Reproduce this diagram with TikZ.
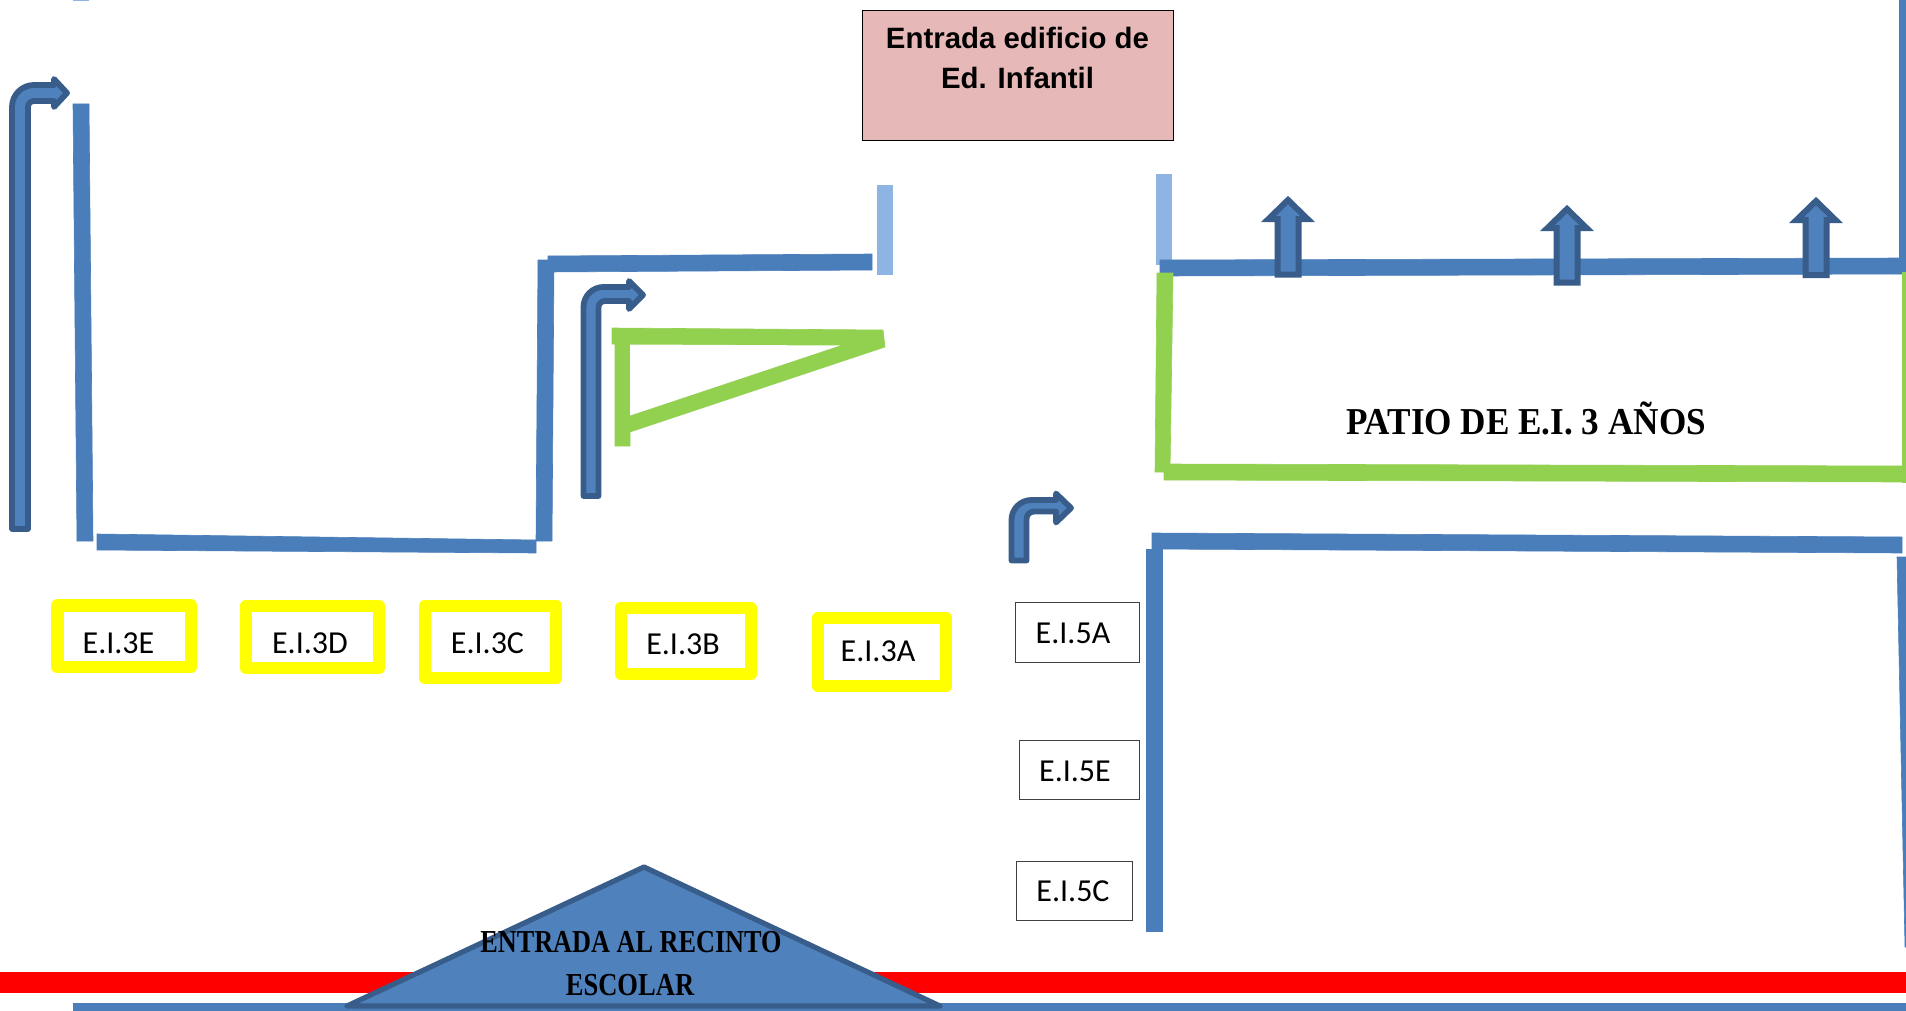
\documentclass[tikz,border=0pt]{standalone}
\usepackage{fontspec}
\setmainfont{Liberation Sans}
\newfontfamily\calib{Carlito}
\newfontfamily\deco{Liberation Serif}
\definecolor{wallblue}{HTML}{4A7EBB}
\definecolor{lightwall}{HTML}{8EB4E3}
\definecolor{greenwall}{HTML}{92D050}
\definecolor{arrowfill}{HTML}{4F81BD}
\definecolor{arrowline}{HTML}{385D8A}
\definecolor{pinkbox}{HTML}{E6B8B7}
\definecolor{pureyellow}{HTML}{FFFF00}
\definecolor{purered}{HTML}{FF0000}
\tikzset{
  wall/.style={fill=wallblue,draw=wallblue,line width=0.3pt},
  lightw/.style={fill=lightwall,draw=none},
  greenw/.style={fill=greenwall,draw=greenwall,line width=0.3pt},
  bigarrow/.style={fill=arrowfill,draw=arrowline,line width=2.9pt,line join=round},
  uparrow/.style={fill=arrowfill,draw=arrowline,line width=3pt,line join=miter},
  yellowbox/.style={draw=pureyellow,line width=6.4pt,line join=round,fill=white},
  whitebox/.style={draw=black!75,line width=0.5pt,fill=white},
  lab/.style={font=\calib\fontsize{16}{19}\selectfont,inner sep=0pt,text=black},
  decolab/.style={font=\deco\bfseries,inner sep=0pt,text=black}
}
\begin{document}
\begin{tikzpicture}[x=0.5pt,y=-0.5pt]
\useasboundingbox (0,0) rectangle (1906,1011);
\clip (0,0) rectangle (1906,1011);

% walls, left block
\fill[lightw] (73,0) rectangle (89,1.5);
\filldraw[wall] (73,104) -- (89,104) -- (93,541) -- (77,541) -- cycle;
\filldraw[wall] (97,534) -- (536,540) -- (536,553) -- (97,550) -- cycle;
\filldraw[wall] (538,260) -- (554,260) -- (552,541) -- (536,541) -- cycle;
\filldraw[wall] (548,256) -- (872,254) -- (872,270) -- (548,272) -- cycle;
\fill[lightw] (877,185) rectangle (893,275);

% green wedge
\filldraw[greenw] (612,328) -- (883,330) -- (885,347) -- (630,432) -- (630,446) -- (615,446) -- (615,344) -- (612,344) -- cycle;
\fill[white] (630,344.5) -- (840,345.5) -- (630,415.5) -- cycle;

% walls, right block
\fill[lightw] (1156,174) rectangle (1172,265);
\filldraw[wall] (1160,260) -- (1906,258) -- (1906,274) -- (1160,276) -- cycle;
\filldraw[wall] (1899,0) -- (1906,0) -- (1906,258) -- (1899,258) -- cycle;
\filldraw[greenw] (1157,273) -- (1173,273) -- (1170,472) -- (1155,472) -- cycle;
\filldraw[greenw] (1164,464) -- (1902,466) -- (1902,482) -- (1164,480) -- cycle;
\filldraw[greenw] (1902,272) rectangle (1906,482);
\filldraw[wall] (1152,533) -- (1902,537) -- (1902,553) -- (1152,549) -- cycle;
\filldraw[wall] (1146,549) rectangle (1162,931);
\filldraw[wall] (1897,557) -- (1906,557) -- (1906,947) -- (1905,947) -- cycle;

% bottom bands
\fill[purered] (0,972) rectangle (1906,993);
\fill[wallblue] (73,1003) rectangle (1906,1011);

% bent arrows
\draw[bigarrow] (12,529) -- (12,107) arc[start angle=180,end angle=270,radius=22] -- (54,85) -- (54,79) -- (67,93) -- (54,107) -- (54,101) -- (34,101) arc[start angle=270,end angle=180,radius=6] -- (28,529) -- cycle;
\draw[bigarrow] (583.5,496) -- (583.5,307) arc[start angle=180,end angle=270,radius=20] -- (629,287) -- (629,281) -- (643,295) -- (629,309) -- (629,301) -- (605,301) arc[start angle=270,end angle=180,radius=6.5] -- (598.5,496) -- cycle;
\draw[bigarrow] (1011.5,560.5) -- (1011.5,520) arc[start angle=180,end angle=270,radius=20] -- (1056,500) -- (1056,493.5) -- (1071,508) -- (1056,522.5) -- (1056,511.5) -- (1034,511.5) arc[start angle=270,end angle=180,radius=7.5] -- (1026.5,560.5) -- cycle;

% up arrows
\draw[uparrow] (1288,200) -- (1307.5,219) -- (1298.5,219) -- (1298.5,274.5) -- (1277.5,274.5) -- (1277.5,219) -- (1268.5,219) -- cycle;
\draw[uparrow] (1567,209) -- (1586.5,228) -- (1577.5,228) -- (1577.5,282.5) -- (1556.5,282.5) -- (1556.5,228) -- (1547.5,228) -- cycle;
\draw[uparrow] (1816,201) -- (1835.5,220) -- (1826.5,220) -- (1826.5,275) -- (1805.5,275) -- (1805.5,220) -- (1796.5,220) -- cycle;

% pink box
\node[draw=black,line width=0.4pt,fill=pinkbox,minimum width=155.5pt,minimum height=65pt,inner sep=0pt] (entradabox) at (1017.5,75) {};
\node[inner sep=0pt,align=center,font=\bfseries\fontsize{14.7}{20}\selectfont] (entrada) at (1017.5,58) {Entrada edificio de\\Ed. Infantil};

% yellow classroom boxes
\draw[yellowbox] (57.5,605.5) rectangle (191,667);
\draw[yellowbox] (246,606) rectangle (379,668);
\draw[yellowbox] (425,606) rectangle (556,678);
\draw[yellowbox] (621,608) rectangle (751,674);
\draw[yellowbox] (818,618) rectangle (946,686);
\node[lab] (e3e) at (118.5,643) {E.I.3E};
\node[lab] (e3d) at (310,643) {E.I.3D};
\node[lab] (e3c) at (487.5,643) {E.I.3C};
\node[lab] (e3b) at (683,644) {E.I.3B};
\node[lab] (e3a) at (878,651) {E.I.3A};

% white classroom boxes
\draw[whitebox] (1015,602) rectangle (1139,662);
\draw[whitebox] (1019,740) rectangle (1139,799);
\draw[whitebox] (1016,861) rectangle (1132,920);
\node[lab] (e5a) at (1073,633) {E.I.5A};
\node[lab] (e5e) at (1075,771) {E.I.5E};
\node[lab] (e5c) at (1073,891) {E.I.5C};

% patio label
\node[decolab] (patio) at (1526,418) {\fontsize{19}{22}\selectfont\scalebox{0.925}[1]{PATIO DE E.I. 3 AÑOS}};

% entrance triangle
\draw[fill=arrowfill,draw=arrowline,line width=2.6pt,line join=round] (644,867) -- (940,1006) -- (347,1006) -- cycle;
\node[decolab] (recinto) at (631,942) {\fontsize{16}{19}\selectfont\scalebox{0.82}[1]{ENTRADA AL RECINTO}};
\node[decolab] (escolar) at (630,985) {\fontsize{16}{19}\selectfont\scalebox{0.83}[1]{ESCOLAR}};
\end{tikzpicture}
\end{document}
